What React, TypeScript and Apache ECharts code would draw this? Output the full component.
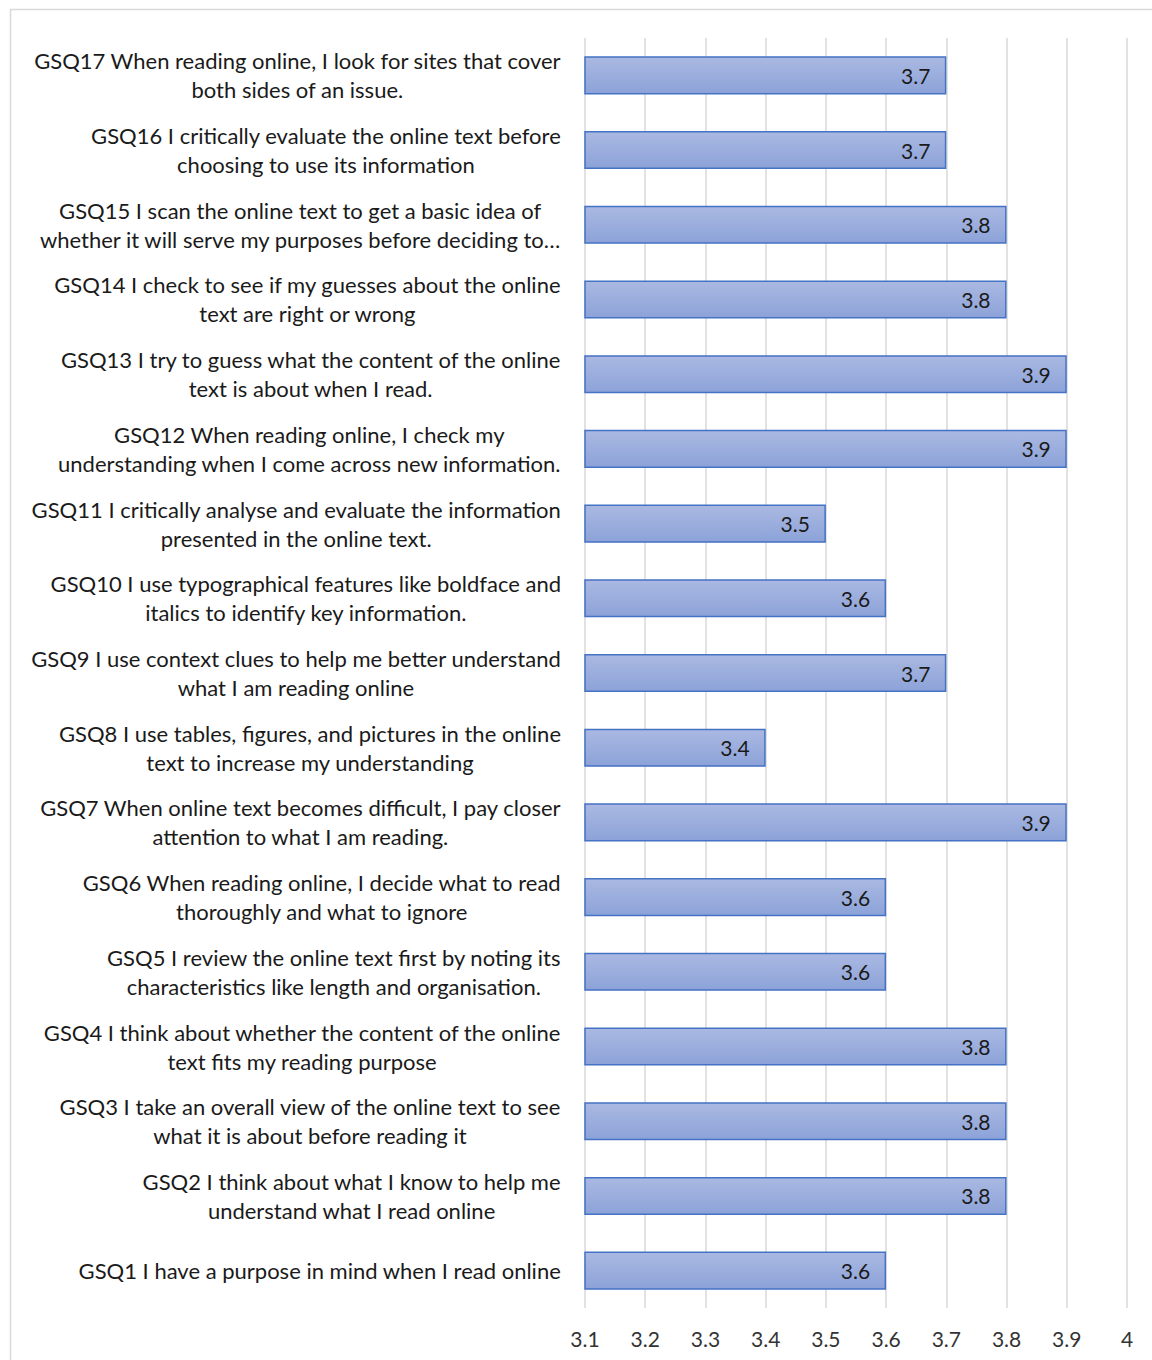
import React, { useEffect, useRef } from "react";
import * as echarts from "echarts";

const categories = [
  "GSQ1 I have a purpose in mind when I read online",
  "GSQ2 I think about what I know to help me\nunderstand what I read online",
  "GSQ3 I take an overall view of the online text to see\nwhat it is about before reading it",
  "GSQ4 I think about whether the content of the online\ntext fits my reading purpose",
  "GSQ5 I review the online text first by noting its\ncharacteristics like length and organisation.",
  "GSQ6 When reading online, I decide what to read\nthoroughly and what to ignore",
  "GSQ7 When online text becomes difficult, I pay closer\nattention to what I am reading.",
  "GSQ8 I use tables, figures, and pictures in the online\ntext to increase my understanding",
  "GSQ9 I use context clues to help me better understand\nwhat I am reading online",
  "GSQ10 I use typographical features like boldface and\nitalics to identify key information.",
  "GSQ11 I critically analyse and evaluate the information\npresented in the online text.",
  "GSQ12 When reading online, I check my\nunderstanding when I come across new information.",
  "GSQ13 I try to guess what the content of the online\ntext is about when I read.",
  "GSQ14 I check to see if my guesses about the online\ntext are right or wrong",
  "GSQ15 I scan the online text to get a basic idea of\nwhether it will serve my purposes before deciding to…",
  "GSQ16 I critically evaluate the online text before\nchoosing to use its information",
  "GSQ17 When reading online, I look for sites that cover\nboth sides of an issue.",
];

const values = [3.6, 3.8, 3.8, 3.8, 3.6, 3.6, 3.9, 3.4, 3.7, 3.6, 3.5, 3.9, 3.9, 3.8, 3.8, 3.7, 3.7];

const axisMin = 3.1;
const axisMax = 4;

export default function App() {
  const ref = useRef<HTMLDivElement>(null);
  useEffect(() => {
    document.body.style.margin = "0";
    const chart = echarts.init(ref.current!, null, { renderer: "svg" });
    const font = "Lato, 'Open Sans', sans-serif";
    chart.setOption({
      animation: false,
      backgroundColor: "#ffffff",
      graphic: [
        {
          type: "rect",
          shape: { x: 10.5, y: 9.5, width: 1200, height: 1400 },
          style: { fill: "none", stroke: "#d9d9d9", lineWidth: 1.5 },
          silent: true,
          z: -1,
        },
      ],
      grid: { left: 585, right: 25, top: 38, bottom: 52, containLabel: false },
      xAxis: {
        type: "value",
        min: axisMin,
        max: axisMax,
        interval: 0.1,
        axisLine: { show: false },
        axisTick: { show: false },
        splitLine: { show: true, lineStyle: { color: "#d9d9d9", width: 1.5 } },
        axisLabel: {
          color: "#333",
          fontSize: 21,
          fontFamily: font,
          margin: 20,
          formatter: (v: number) => String(Math.round(v * 10) / 10),
        },
      },
      yAxis: {
        type: "category",
        data: categories,
        axisLine: { show: false },
        axisTick: { show: false },
        axisLabel: {
          color: "#1a1a1a",
          fontSize: 22,
          fontFamily: font,
          lineHeight: 29,
          align: "right",
          margin: 24,
          formatter: (v: string) =>
            v
              .split("\n")
              .map((s) => "{c|" + s + "}")
              .join("\n"),
          rich: {
            c: {
              align: "center",
              fontSize: 22,
              fontFamily: font,
              lineHeight: 29,
              color: "#1a1a1a",
            },
          },
        },
      },
      series: [
        {
          type: "bar",
          data: values,
          barCategoryGap: "49%",
          itemStyle: {
            color: new echarts.graphic.LinearGradient(0, 0, 0, 1, [
              { offset: 0, color: "#aab9e2" },
              { offset: 1, color: "#8ca2d8" },
            ]),
            borderColor: "#4472c4",
            borderWidth: 1.5,
          },
          label: {
            show: true,
            position: "insideRight",
            distance: 16,
            color: "#1a1a1a",
            fontSize: 21,
            fontFamily: font,
            formatter: (p: any) => String(p.value),
          },
        },
      ],
    });
    return () => chart.dispose();
  }, []);
  return (
    <div
      ref={ref}
      style={{ position: "absolute", left: 0, top: 0, width: 1152, height: 1360 }}
    />
  );
}
